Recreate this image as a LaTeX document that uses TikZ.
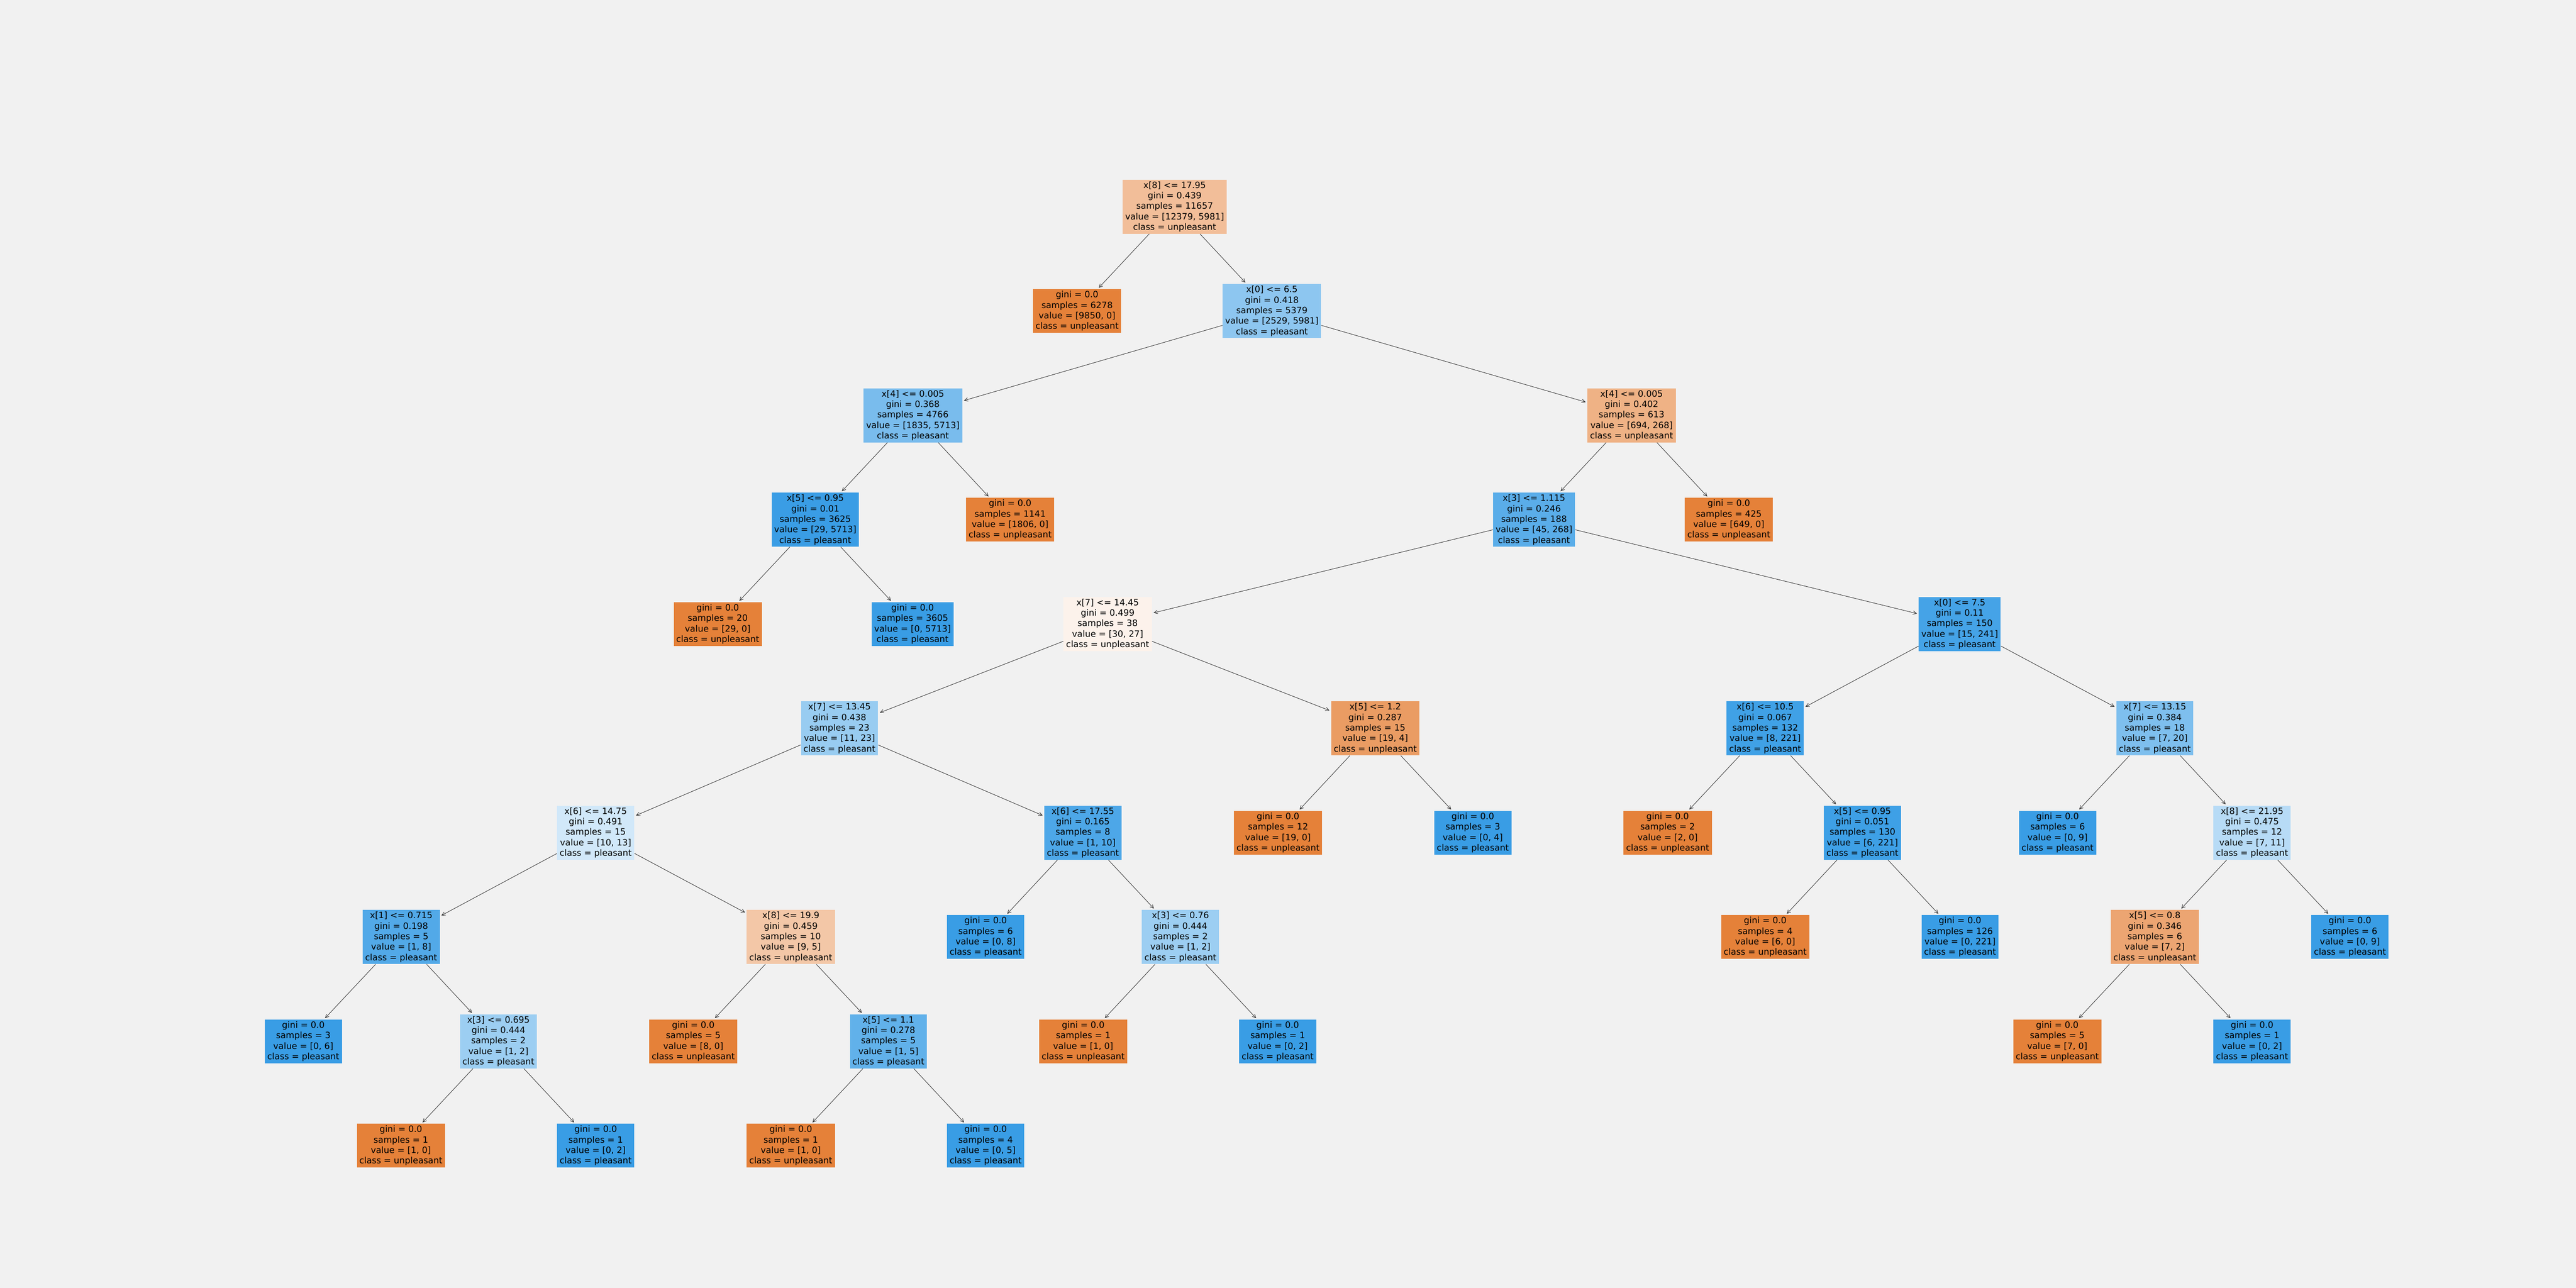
\documentclass[tikz,border=0pt]{standalone}
\usepackage{fontspec}
\setmainfont{DejaVu Sans}
\usepackage{tikz}
\usetikzlibrary{arrows.meta}
\definecolor{unpcol}{RGB}{229,129,57}
\definecolor{plecol}{RGB}{57,157,229}
\definecolor{bgcol}{RGB}{241,241,241}
\tikzset{
  tnode/.style={rectangle, align=center, inner xsep=2.3pt, inner ysep=1.65pt,
    font=\fontsize{7.7}{9.25}\selectfont},
  unp/.style={tnode, fill=unpcol!#1!white},
  unp/.default=100,
  ple/.style={tnode, fill=plecol!#1!white},
  ple/.default=100,
}

\begin{document}
\begin{tikzpicture}[->, >={Straight Barb[length=1.1mm,width=1.1mm]},
    every edge/.style={draw=black!80, line width=0.4pt, shorten >=0.5mm}]
  \fill[bgcol] (0,0) rectangle (80,40);
  % depth 0
  \node[unp=51.7] (n0) at (36.48,33.58) {x[8] <= 17.95\\gini = 0.439\\samples = 11657\\value = [12379, 5981]\\class = unpleasant};
  % depth 1
  \node[unp] (n1a) at (33.45,30.34) {gini = 0.0\\samples = 6278\\value = [9850, 0]\\class = unpleasant};
  \node[ple=57.7] (n1b) at (39.50,30.34) {x[0] <= 6.5\\gini = 0.418\\samples = 5379\\value = [2529, 5981]\\class = pleasant};
  % depth 2
  \node[ple=67.9] (n2a) at (28.35,27.10) {x[4] <= 0.005\\gini = 0.368\\samples = 4766\\value = [1835, 5713]\\class = pleasant};
  \node[unp=61.4] (n2b) at (50.67,27.10) {x[4] <= 0.005\\gini = 0.402\\samples = 613\\value = [694, 268]\\class = unpleasant};
  % depth 3
  \node[ple=99.5] (n3a) at (25.32,23.86) {x[5] <= 0.95\\gini = 0.01\\samples = 3625\\value = [29, 5713]\\class = pleasant};
  \node[unp] (n3b) at (31.37,23.86) {gini = 0.0\\samples = 1141\\value = [1806, 0]\\class = unpleasant};
  \node[ple=83.2] (n3c) at (47.64,23.86) {x[3] <= 1.115\\gini = 0.246\\samples = 188\\value = [45, 268]\\class = pleasant};
  \node[unp] (n3d) at (53.69,23.86) {gini = 0.0\\samples = 425\\value = [649, 0]\\class = unpleasant};
  % depth 4
  \node[unp] (n4a) at (22.29,20.62) {gini = 0.0\\samples = 20\\value = [29, 0]\\class = unpleasant};
  \node[ple] (n4b) at (28.34,20.62) {gini = 0.0\\samples = 3605\\value = [0, 5713]\\class = pleasant};
  \node[unp=10] (n4c) at (34.40,20.62) {x[7] <= 14.45\\gini = 0.499\\samples = 38\\value = [30, 27]\\class = unpleasant};
  \node[ple=93.8] (n4d) at (60.86,20.62) {x[0] <= 7.5\\gini = 0.11\\samples = 150\\value = [15, 241]\\class = pleasant};
  % depth 5
  \node[ple=52.2] (n5a) at (26.07,17.38) {x[7] <= 13.45\\gini = 0.438\\samples = 23\\value = [11, 23]\\class = pleasant};
  \node[unp=78.9] (n5b) at (42.71,17.38) {x[5] <= 1.2\\gini = 0.287\\samples = 15\\value = [19, 4]\\class = unpleasant};
  \node[ple=96.4] (n5c) at (54.82,17.38) {x[6] <= 10.5\\gini = 0.067\\samples = 132\\value = [8, 221]\\class = pleasant};
  \node[ple=65] (n5d) at (66.92,17.38) {x[7] <= 13.15\\gini = 0.384\\samples = 18\\value = [7, 20]\\class = pleasant};
  % depth 6
  \node[ple=23.1] (n6a) at (18.50,14.14) {x[6] <= 14.75\\gini = 0.491\\samples = 15\\value = [10, 13]\\class = pleasant};
  \node[ple=90] (n6b) at (33.63,14.14) {x[6] <= 17.55\\gini = 0.165\\samples = 8\\value = [1, 10]\\class = pleasant};
  \node[unp] (n6c) at (39.69,14.14) {gini = 0.0\\samples = 12\\value = [19, 0]\\class = unpleasant};
  \node[ple] (n6d) at (45.74,14.14) {gini = 0.0\\samples = 3\\value = [0, 4]\\class = pleasant};
  \node[unp] (n6e) at (51.79,14.14) {gini = 0.0\\samples = 2\\value = [2, 0]\\class = unpleasant};
  \node[ple=97.3] (n6f) at (57.84,14.14) {x[5] <= 0.95\\gini = 0.051\\samples = 130\\value = [6, 221]\\class = pleasant};
  \node[ple] (n6g) at (63.90,14.14) {gini = 0.0\\samples = 6\\value = [0, 9]\\class = pleasant};
  \node[ple=36.4] (n6h) at (69.94,14.14) {x[8] <= 21.95\\gini = 0.475\\samples = 12\\value = [7, 11]\\class = pleasant};
  % depth 7
  \node[ple=87.5] (n7a) at (12.46,10.90) {x[1] <= 0.715\\gini = 0.198\\samples = 5\\value = [1, 8]\\class = pleasant};
  \node[unp=44.4] (n7b) at (24.56,10.90) {x[8] <= 19.9\\gini = 0.459\\samples = 10\\value = [9, 5]\\class = unpleasant};
  \node[ple] (n7c) at (30.61,10.90) {gini = 0.0\\samples = 6\\value = [0, 8]\\class = pleasant};
  \node[ple=50] (n7d) at (36.66,10.90) {x[3] <= 0.76\\gini = 0.444\\samples = 2\\value = [1, 2]\\class = pleasant};
  \node[unp] (n7e) at (54.82,10.90) {gini = 0.0\\samples = 4\\value = [6, 0]\\class = unpleasant};
  \node[ple] (n7f) at (60.87,10.90) {gini = 0.0\\samples = 126\\value = [0, 221]\\class = pleasant};
  \node[unp=71.4] (n7g) at (66.92,10.90) {x[5] <= 0.8\\gini = 0.346\\samples = 6\\value = [7, 2]\\class = unpleasant};
  \node[ple] (n7h) at (72.98,10.90) {gini = 0.0\\samples = 6\\value = [0, 9]\\class = pleasant};
  % depth 8
  \node[ple] (n8a) at (9.42,7.66) {gini = 0.0\\samples = 3\\value = [0, 6]\\class = pleasant};
  \node[ple=50] (n8b) at (15.48,7.66) {x[3] <= 0.695\\gini = 0.444\\samples = 2\\value = [1, 2]\\class = pleasant};
  \node[unp] (n8c) at (21.53,7.66) {gini = 0.0\\samples = 5\\value = [8, 0]\\class = unpleasant};
  \node[ple=80] (n8d) at (27.59,7.66) {x[5] <= 1.1\\gini = 0.278\\samples = 5\\value = [1, 5]\\class = pleasant};
  \node[unp] (n8e) at (33.64,7.66) {gini = 0.0\\samples = 1\\value = [1, 0]\\class = unpleasant};
  \node[ple] (n8f) at (39.68,7.66) {gini = 0.0\\samples = 1\\value = [0, 2]\\class = pleasant};
  \node[unp] (n8g) at (63.89,7.66) {gini = 0.0\\samples = 5\\value = [7, 0]\\class = unpleasant};
  \node[ple] (n8h) at (69.94,7.66) {gini = 0.0\\samples = 1\\value = [0, 2]\\class = pleasant};
  % depth 9
  \node[unp] (n9a) at (12.45,4.42) {gini = 0.0\\samples = 1\\value = [1, 0]\\class = unpleasant};
  \node[ple] (n9b) at (18.50,4.42) {gini = 0.0\\samples = 1\\value = [0, 2]\\class = pleasant};
  \node[unp] (n9c) at (24.56,4.42) {gini = 0.0\\samples = 1\\value = [1, 0]\\class = unpleasant};
  \node[ple] (n9d) at (30.61,4.42) {gini = 0.0\\samples = 4\\value = [0, 5]\\class = pleasant};
  % splits, parent to children
  \path (n0) edge (n1a) edge (n1b);
  \path (n1b) edge (n2a) edge (n2b);
  \path (n2a) edge (n3a) edge (n3b);
  \path (n2b) edge (n3c) edge (n3d);
  \path (n3a) edge (n4a) edge (n4b);
  \path (n3c) edge (n4c) edge (n4d);
  \path (n4c) edge (n5a) edge (n5b);
  \path (n4d) edge (n5c) edge (n5d);
  \path (n5a) edge (n6a) edge (n6b);
  \path (n5b) edge (n6c) edge (n6d);
  \path (n5c) edge (n6e) edge (n6f);
  \path (n5d) edge (n6g) edge (n6h);
  \path (n6a) edge (n7a) edge (n7b);
  \path (n6b) edge (n7c) edge (n7d);
  \path (n6f) edge (n7e) edge (n7f);
  \path (n6h) edge (n7g) edge (n7h);
  \path (n7a) edge (n8a) edge (n8b);
  \path (n7b) edge (n8c) edge (n8d);
  \path (n7d) edge (n8e) edge (n8f);
  \path (n7g) edge (n8g) edge (n8h);
  \path (n8b) edge (n9a) edge (n9b);
  \path (n8d) edge (n9c) edge (n9d);
\end{tikzpicture}
\end{document}
